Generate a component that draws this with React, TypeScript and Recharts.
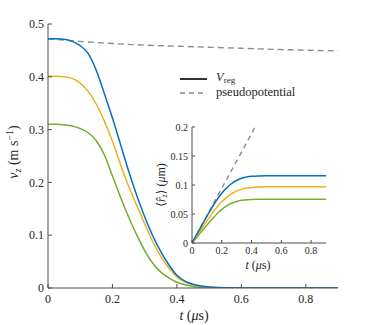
import React from "react";
import { LineChart, Line, XAxis, YAxis } from "recharts";

// main panel: v_z(t)
const timeMain = [
  0, 0.025, 0.05, 0.075, 0.1, 0.125, 0.15, 0.175, 0.2, 0.225, 0.25, 0.275, 0.3,
  0.325, 0.35, 0.375, 0.4, 0.425, 0.45, 0.475, 0.5, 0.525, 0.55, 0.575, 0.6,
  0.7, 0.8, 0.9,
];
const vBlue = [
  0.472, 0.472, 0.471, 0.467, 0.459, 0.444, 0.412, 0.368, 0.322, 0.272, 0.222,
  0.176, 0.135, 0.099, 0.069, 0.044, 0.024, 0.013, 0.007, 0.004, 0.002, 0.001,
  0.0005, 0.0002, 0, 0, 0, 0,
];
const vOrange = [
  0.401, 0.401, 0.4, 0.397, 0.388, 0.372, 0.348, 0.316, 0.278, 0.234, 0.193,
  0.157, 0.122, 0.088, 0.06, 0.038, 0.021, 0.011, 0.006, 0.003, 0.0015, 0.0008,
  0.0004, 0.0001, 0, 0, 0, 0,
];
const vGreen = [
  0.31, 0.31, 0.309, 0.307, 0.302, 0.294, 0.279, 0.252, 0.212, 0.172, 0.135,
  0.101, 0.071, 0.047, 0.03, 0.019, 0.011, 0.006, 0.003, 0.0015, 0.001, 0.0005,
  0.0002, 0.0001, 0, 0, 0, 0,
];
const pseudoTime = [0, 0.1, 0.2, 0.3, 0.45, 0.6, 0.7, 0.8, 0.9];
const pseudoV = [0.472, 0.467, 0.463, 0.46, 0.457, 0.454, 0.452, 0.4505, 0.449];

// inset: <r_z>(t)
const timeInset = [
  0, 0.025, 0.05, 0.075, 0.1, 0.125, 0.15, 0.175, 0.2, 0.225, 0.25, 0.275, 0.3,
  0.325, 0.35, 0.375, 0.4, 0.45, 0.5, 0.6, 0.9,
];
const rBlue = [
  0, 0.0116, 0.0232, 0.0347, 0.0461, 0.0572, 0.0677, 0.0773, 0.0857, 0.093,
  0.0991, 0.104, 0.1078, 0.1107, 0.1128, 0.1142, 0.115, 0.1157, 0.1159, 0.116,
  0.116,
];
const rOrange = [
  0, 0.0096, 0.0192, 0.0288, 0.0382, 0.0473, 0.056, 0.064, 0.071, 0.077, 0.082,
  0.0862, 0.0895, 0.092, 0.0938, 0.095, 0.0958, 0.0965, 0.0968, 0.097, 0.097,
];
const rGreen = [
  0, 0.0078, 0.0155, 0.0232, 0.0308, 0.0382, 0.0454, 0.0521, 0.0579, 0.0627,
  0.0665, 0.0695, 0.0716, 0.0731, 0.0741, 0.0747, 0.0751, 0.0754, 0.0755,
  0.0755, 0.0755,
];
const pseudoInsetTime = [0, 0.424];
const pseudoInsetR = [0, 0.2];

const mainXTicks = [0, 0.2, 0.4, 0.6, 0.8];
const mainYTicks = [0, 0.1, 0.2, 0.3, 0.4, 0.5];
const insetXTicks = [0, 0.2, 0.4, 0.6, 0.8];
const insetYTicks = [0, 0.05, 0.1, 0.15, 0.2];

const BLUE = "#0072BD";
const ORANGE = "#EDB120";
const GREEN = "#77AC30";
const GREY = "#8c8c8c";
const AXIS = "#4d4d4d";
const TXT = "#262626";
const SERIF = "'Liberation Serif', 'DejaVu Serif', serif";

const mainRows = timeMain.map((t, i) => ({
  t,
  blue: vBlue[i],
  orange: vOrange[i],
  green: vGreen[i],
}));
const pseudoRows = pseudoTime.map((t, i) => ({ t, v: pseudoV[i] }));
const insetRows = timeInset.map((t, i) => ({
  t,
  blue: rBlue[i],
  orange: rOrange[i],
  green: rGreen[i],
}));
const pseudoInsetRows = pseudoInsetTime.map((t, i) => ({ t, r: pseudoInsetR[i] }));

const fmt = (v: number) => (v === 0 ? "0" : String(v));

export default function App() {
  const mainTick = { fontSize: 12, fill: TXT, fontFamily: SERIF };
  const insetTick = { fontSize: 10, fill: TXT, fontFamily: SERIF };

  return (
    <div
      style={{
        position: "absolute",
        left: 0,
        top: 0,
        width: 374,
        height: 325,
        background: "#fff",
        fontFamily: SERIF,
      }}
    >
      <div style={{ position: "absolute", left: 0, top: 0 }}>
        <LineChart
          width={374}
          height={325}
          data={mainRows}
          margin={{ top: 24, right: 36, bottom: 7, left: 8 }}
          style={{ fontFamily: SERIF }}
        >
          <XAxis
            xAxisId="b"
            dataKey="t"
            type="number"
            domain={[0, 0.9]}
            ticks={mainXTicks}
            tickFormatter={fmt}
            height={30}
            stroke={AXIS}
            tickSize={-4}
            tickMargin={10}
            tick={mainTick}
            allowDataOverflow
          />
          <XAxis
            xAxisId="top"
            orientation="top"
            type="number"
            domain={[0, 0.9]}
            ticks={mainXTicks}
            height={0}
            stroke={AXIS}
            tickSize={-4}
            tick={false}
            allowDataOverflow
          />
          <YAxis
            yAxisId="l"
            type="number"
            domain={[0, 0.5]}
            ticks={mainYTicks}
            tickFormatter={fmt}
            width={40}
            stroke={AXIS}
            tickSize={-4}
            tickMargin={8}
            tick={mainTick}
            allowDataOverflow
          />
          <YAxis
            yAxisId="r"
            orientation="right"
            type="number"
            domain={[0, 0.5]}
            ticks={mainYTicks}
            width={0}
            stroke={AXIS}
            tickSize={-4}
            tick={false}
            allowDataOverflow
          />
          <Line
            xAxisId="b"
            yAxisId="l"
            data={pseudoRows}
            dataKey="v"
            type="monotone"
            stroke={GREY}
            strokeWidth={1.4}
            strokeDasharray="6 4"
            dot={false}
            isAnimationActive={false}
          />
          <Line
            xAxisId="b"
            yAxisId="l"
            dataKey="green"
            type="monotone"
            stroke={GREEN}
            strokeWidth={1.5}
            dot={false}
            isAnimationActive={false}
          />
          <Line
            xAxisId="b"
            yAxisId="l"
            dataKey="orange"
            type="monotone"
            stroke={ORANGE}
            strokeWidth={1.5}
            dot={false}
            isAnimationActive={false}
          />
          <Line
            xAxisId="b"
            yAxisId="l"
            dataKey="blue"
            type="monotone"
            stroke={BLUE}
            strokeWidth={1.5}
            dot={false}
            isAnimationActive={false}
          />
        </LineChart>
      </div>

      {/* inset */}
      <div style={{ position: "absolute", left: 150, top: 115 }}>
        <LineChart
          width={185}
          height={160}
          data={insetRows}
          margin={{ top: 12, right: 9, bottom: 12, left: 12 }}
          style={{ fontFamily: SERIF }}
        >
          <XAxis
            xAxisId="b"
            dataKey="t"
            type="number"
            domain={[0, 0.9]}
            ticks={insetXTicks}
            tickFormatter={fmt}
            height={20}
            stroke={AXIS}
            tickSize={-3}
            tickMargin={7}
            tick={insetTick}
            allowDataOverflow
          />
          <XAxis
            xAxisId="top"
            orientation="top"
            type="number"
            domain={[0, 0.9]}
            ticks={insetXTicks}
            height={0}
            stroke={AXIS}
            tickSize={-3}
            tick={false}
            allowDataOverflow
          />
          <YAxis
            yAxisId="l"
            type="number"
            domain={[0, 0.2]}
            ticks={insetYTicks}
            tickFormatter={fmt}
            width={30}
            stroke={AXIS}
            tickSize={-3}
            tickMargin={7}
            tick={insetTick}
            allowDataOverflow
          />
          <YAxis
            yAxisId="r"
            orientation="right"
            type="number"
            domain={[0, 0.2]}
            ticks={insetYTicks}
            width={0}
            stroke={AXIS}
            tickSize={-3}
            tick={false}
            allowDataOverflow
          />
          <Line
            xAxisId="b"
            yAxisId="l"
            data={pseudoInsetRows}
            dataKey="r"
            type="linear"
            stroke={GREY}
            strokeWidth={1.4}
            strokeDasharray="5 4"
            dot={false}
            isAnimationActive={false}
          />
          <Line
            xAxisId="b"
            yAxisId="l"
            dataKey="green"
            type="monotone"
            stroke={GREEN}
            strokeWidth={1.5}
            dot={false}
            isAnimationActive={false}
          />
          <Line
            xAxisId="b"
            yAxisId="l"
            dataKey="orange"
            type="monotone"
            stroke={ORANGE}
            strokeWidth={1.5}
            dot={false}
            isAnimationActive={false}
          />
          <Line
            xAxisId="b"
            yAxisId="l"
            dataKey="blue"
            type="monotone"
            stroke={BLUE}
            strokeWidth={1.5}
            dot={false}
            isAnimationActive={false}
          />
        </LineChart>
      </div>

      {/* labels and legend */}
      <svg
        width={374}
        height={325}
        style={{ position: "absolute", left: 0, top: 0, pointerEvents: "none" }}
        fontFamily={SERIF}
        fill={TXT}
      >
        <text x={194} y={320} fontSize={14} textAnchor="middle">
          <tspan fontStyle="italic">t</tspan> (<tspan fontStyle="italic">μ</tspan>s)
        </text>
        <text
          x={18}
          y={152}
          fontSize={14}
          textAnchor="middle"
          transform="rotate(-90 18 152)"
        >
          <tspan fontStyle="italic">v</tspan>
          <tspan fontSize={10} dy={3} fontStyle="italic">z</tspan>
          <tspan dy={-3}> (m s</tspan>
          <tspan fontSize={10} dy={-5}>−1</tspan>
          <tspan dy={5}>)</tspan>
        </text>

        <text x={258} y={269} fontSize={12} textAnchor="middle">
          <tspan fontStyle="italic">t</tspan> (<tspan fontStyle="italic">μ</tspan>s)
        </text>
        <text
          x={165}
          y={185}
          fontSize={12}
          textAnchor="middle"
          transform="rotate(-90 165 185)"
        >
          <tspan>⟨</tspan>
          <tspan fontStyle="italic">r̂</tspan>
          <tspan fontSize={8} dy={2} fontStyle="italic">z</tspan>
          <tspan dy={-2}>⟩ (</tspan>
          <tspan fontStyle="italic">μ</tspan>
          <tspan>m)</tspan>
        </text>

        <line x1={180} y1={79} x2={207} y2={79} stroke="#000" strokeWidth={1.6} />
        <line
          x1={180}
          y1={93}
          x2={207}
          y2={93}
          stroke={GREY}
          strokeWidth={1.4}
          strokeDasharray="5 4"
        />
        <text x={216} y={81} fontSize={12.5}>
          <tspan fontStyle="italic">V</tspan>
          <tspan fontSize={9} dy={2}>reg</tspan>
        </text>
        <text x={216} y={96} fontSize={12.5}>
          pseudopotential
        </text>
      </svg>
    </div>
  );
}
